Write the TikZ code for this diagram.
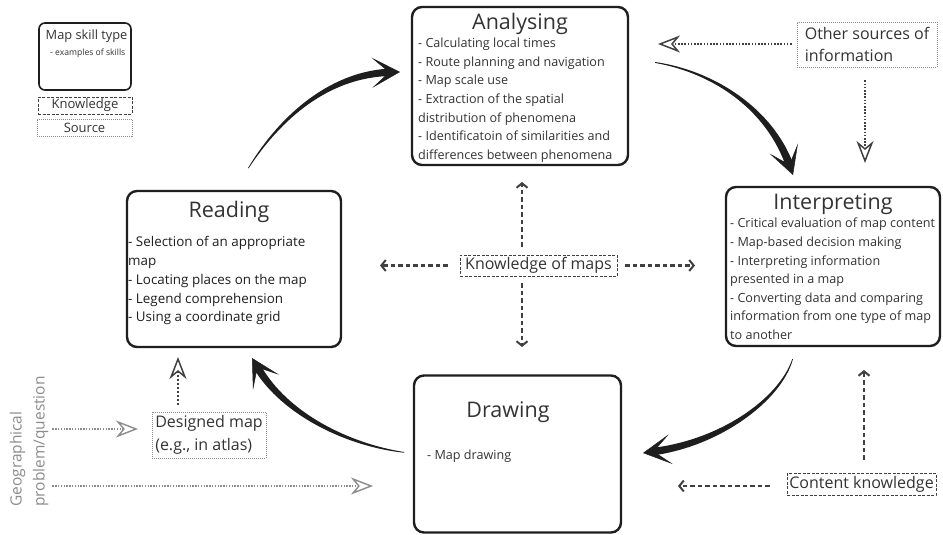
\documentclass[tikz,border=0pt]{standalone}
\usepackage{fontspec}
\setmainfont{Open Sans}
\usetikzlibrary{arrows.meta,calc}
\definecolor{ink}{HTML}{1E1E1E}
\definecolor{txt}{HTML}{333333}
\definecolor{dk}{HTML}{404040}
\definecolor{gr}{HTML}{8C8C8C}
\begin{document}
\begin{tikzpicture}[x=1pt,y=-1pt,
  skill/.style={draw=ink, line width=2.4pt, rounded corners=10pt, inner sep=0pt},
  ttl/.style={font=\fontsize{21.5}{26}\selectfont, text=txt, inner sep=0pt},
  lst/.style={font=\fontsize{12.6}{18.6}\selectfont, text=txt, align=left, inner sep=0pt},
  knbox/.style={draw=dk, line width=0.9pt, dash pattern=on 3pt off 1.5pt, inner sep=0pt, text=txt},
  srcbox/.style={draw=gr, line width=0.8pt, dash pattern=on 1pt off 1pt, inner sep=0pt, text=txt},
  bigtip/.style={draw=ink, line width=0.5pt, -{Stealth[length=28pt,width=30pt,inset=17pt]}},
  kn/.style={draw=dk, line width=2.8pt, dash pattern=on 4.5pt off 3pt, -{Straight Barb[length=4.5pt,width=11pt,line width=2pt]}},
  src/.style={draw=dk, line width=2pt, dash pattern=on 1.6pt off 1.6pt, -{Stealth[open,length=22pt,width=17pt,inset=7pt,line width=1.5pt]}},
  gsrc/.style={draw=gr, line width=1.6pt, dash pattern=on 1.4pt off 1.4pt, -{Stealth[open,length=22pt,width=17pt,inset=7pt,line width=1.4pt]}}
]
\path[use as bounding box, fill=white] (0,0) rectangle (943,535);

% ---------- legend ----------
\node[draw=ink, line width=1.6pt, rounded corners=6pt, minimum width=92pt, minimum height=67pt, inner sep=0pt] (leg) at (85,56.5) {};
\node[anchor=base west, inner sep=0pt, text=txt, font=\fontsize{12.8}{15}\selectfont] (legT) at (45.5,40) {Map skill type};
\node[anchor=base west, inner sep=0pt, text=txt, font=\fontsize{8.6}{10}\selectfont] (legS) at (50,55.5) {- examples of skills};
\node[knbox, minimum width=94pt, minimum height=17pt, font=\fontsize{13}{15}\selectfont] (legK) at (85,105.5) {Knowledge};
\node[srcbox, minimum width=95pt, minimum height=17pt, font=\fontsize{13}{15}\selectfont] (legR) at (84.5,127.5) {Source};

% ---------- skill boxes ----------
\node[skill, minimum width=216pt, minimum height=158pt] (ana) at (520,86) {};
\node[ttl, anchor=base] (anaT) at (520,30) {Analysing};
\node[lst, anchor=north west] (anaL) at (418,38) {- Calculating local times\\- Route planning and navigation\\- Map scale use\\- Extraction of the spatial\\distribution of phenomena\\- Identificatoin of similarities and\\differences between phenomena};

\node[skill, minimum width=214pt, minimum height=159pt] (int) at (833,266.5) {};
\node[ttl, anchor=base] (intT) at (833,209) {Interpreting};
\node[lst, anchor=north west] (intL) at (730,218) {- Critical evaluation of map content\\- Map-based decision making\\- Interpreting information\\presented in a map\\- Converting data and comparing\\information from one type of map\\to another};

\node[skill, minimum width=214pt, minimum height=156pt] (rea) at (234,269) {};
\node[ttl, anchor=base] (reaT) at (229,217) {Reading};
\node[lst, anchor=north west, text=ink, font=\fontsize{13.4}{18.7}\selectfont] (reaL) at (128,236.5) {- Selection of an appropriate\\map\\- Locating places on the map\\- Legend comprehension\\- Using a coordinate grid};

\node[skill, minimum width=207pt, minimum height=157pt] (dra) at (517.5,454) {};
\node[ttl, anchor=base] (draT) at (508,417) {Drawing};
\node[lst, anchor=base west] (draL) at (427,459) {- Map drawing};

% ---------- knowledge / source boxes ----------
\node[knbox, minimum width=157pt, minimum height=21pt, font=\fontsize{16}{19}\selectfont] (kom) at (538.5,265.5) {Knowledge of maps};
\node[knbox, minimum width=149pt, minimum height=22pt, font=\fontsize{16}{19}\selectfont] (ck) at (861.5,484) {Content knowledge};
\node[srcbox, minimum width=140pt, minimum height=45pt, align=left, font=\fontsize{16}{22}\selectfont] (os) at (867,44.5) {Other sources of\\information};
\node[srcbox, minimum width=114pt, minimum height=46pt, align=left, font=\fontsize{16}{22.5}\selectfont] (dm) at (209,435) {Designed map\\(e.g., in atlas)};
\node[rotate=90, anchor=west, inner sep=0pt, align=left, text=gr, font=\fontsize{15.5}{23}\selectfont] (gq) at (29,507) {Geographical\\problem/question};

% ---------- free ends ----------
\coordinate (kx) at (522,0);
\coordinate (kU) at (522,182);
\coordinate (kD) at (522,347);
\coordinate (kL) at (380,265.5);
\coordinate (kR) at (695,265.5);
\coordinate (cL) at (678,486);
\coordinate (cU) at (864,370);
\coordinate (cx) at (864,0);
\coordinate (oL) at (658,44);
\coordinate (oD) at (865,163);
\coordinate (dU) at (178,357);
\coordinate (dx) at (178,0);
\coordinate (g1) at (138,429);
\coordinate (g2) at (373,486);

% ---------- knowledge arrows ----------
\draw[kn, shorten <=8pt] (kom.north -| kx) -- (kU);
\draw[kn, shorten <=7pt] (kom.south -| kx) -- (kD);
\draw[kn, shorten <=12pt] (kom.west) -- (kL);
\draw[kn, shorten <=8pt] (kom.east) -- (kR);
\draw[kn, shorten <=17pt] (ck.west |- cL) -- (cL);
\draw[kn, shorten <=13pt] (ck.north -| cx) -- (cU);

% ---------- source arrows ----------
\draw[src, shorten <=5pt] (os.west |- oL) -- (oL);
\draw[src, shorten <=13pt] (os.south -| oD) -- (oD);
\draw[src, line width=2.5pt, dash pattern=on 2pt off 2pt, shorten <=7pt] (dm.north -| dx) -- (dU);
\draw[gsrc, shorten <=4pt] (gq.south |- g1) -- (g1);
\draw[gsrc, shorten <=4pt] (gq.south |- g2) -- (g2);

% ---------- cycle arrows (tapered) ----------
% Reading -> Analysing
\fill[ink] (248,168) .. controls (283.5,109) and (335,71) .. (389.9,68.6) -- (390.1,76) .. controls (335,77.2) and (286.5,111) .. (248.6,168.3) -- cycle;
\draw[bigtip] (385,72.4) -- (400,72);
% Analysing -> Interpreting
\fill[ink] (655,62) .. controls (715,70.5) and (773,109) .. (793.4,164.3) -- (786.1,166.9) .. controls (767,111) and (715,73.5) .. (655,62.9) -- cycle;
\draw[bigtip] (786.4,156.2) -- (793,175);
% Interpreting -> Drawing
\fill[ink] (793,359) .. controls (781.5,400.8) and (720.5,446) .. (653.4,455.4) -- (652.4,447.9) .. controls (719.5,440) and (778.5,399.2) .. (792.3,359) -- cycle;
\draw[bigtip] (662.8,450.3) -- (643,453);
% Drawing -> Reading
\fill[ink] (404,452) .. controls (350,443.5) and (287.4,413.5) .. (260.3,364.7) -- (253.7,368.5) .. controls (282.6,416.5) and (349,447) .. (404,452.7) -- cycle;
\draw[bigtip] (262,375.3) -- (252,358);
\end{tikzpicture}
\end{document}
